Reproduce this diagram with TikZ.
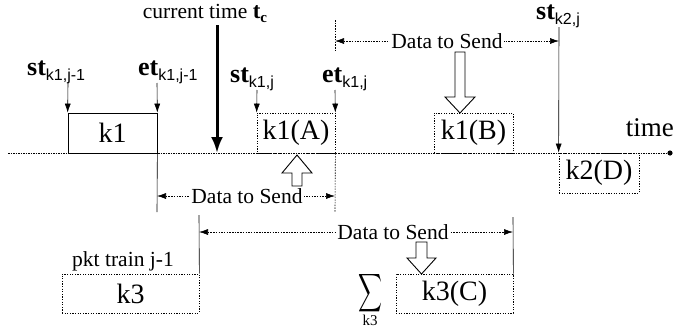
\documentclass[tikz,border=0pt]{standalone}
\usepackage{fontspec}
\setmainfont{Liberation Serif}
\newfontfamily\subsf{Liberation Sans}
\usetikzlibrary{arrows.meta}

% time-stamp label: bold symbol with a sans subscript
\newcommand\tlab[2]{\textbf{#1}\raisebox{-5pt}{\subsf\fontsize{16}{16}\selectfont #2}}

\begin{document}
\begin{tikzpicture}[x=1pt,y=-1pt,
  txt/.style={font=\fontsize{21.5}{24}\selectfont, inner sep=0pt},
  stamp/.style={font=\fontsize{26}{28}\selectfont, inner sep=0pt, anchor=base west},
  pkt/.style={font=\fontsize{28}{30}\selectfont, minimum height=40pt, inner sep=0pt,
              draw, line width=0.7pt, dash pattern=on 1.2pt off 1.4pt},
  pktsolid/.style={pkt, solid},
  tick/.style={line width=0.6pt, -{Latex[length=9pt,width=6pt]}},
  span/.style={line width=0.6pt, dash pattern=on 1.5pt off 1.2pt,
               {Latex[length=9pt,width=6pt]}-{Latex[length=9pt,width=6pt]}},
  bound/.style={line width=0.6pt},
  dbound/.style={line width=0.6pt, dash pattern=on 1.5pt off 1.2pt},
  hollow/.style={draw, fill=white, line width=0.9pt, line join=miter},
  gap/.style={txt, fill=white, inner xsep=1pt, inner ysep=2pt}
]
\useasboundingbox (0,0) rectangle (673,335);

% time axis
\coordinate (ax0) at (8,153);
\coordinate (ax1) at (670,153);
\draw[line width=0.7pt, dash pattern=on 1.5pt off 1pt] (ax0) -- (ax1);
\fill (ax1) circle (2.6pt);
\node[font=\fontsize{27}{28}\selectfont, inner sep=0pt, anchor=base east] (tl) at (674,136) {time};

% packets on the time line
\node[pktsolid, minimum width=89pt] (k1) at (112.5,133) {k1};
\node[pkt, minimum width=78pt] (kA) at (296,133) {k1(A)};
\node[pkt, minimum width=79pt] (kB) at (473.5,133) {k1(B)};
\node[pkt, minimum width=80pt] (kD) at (599,173) {k2(D)};
\node[pkt, minimum width=137pt, minimum height=39pt] (k3) at (130.5,293.5) {k3};
\node[pkt, minimum width=117pt, minimum height=39pt] (kC) at (454.5,293.5) {k3(C)};

% current time
\node[txt, anchor=base] (tc) at (205,18) {current time {\fontsize{23}{23}\selectfont\bfseries t}\raisebox{-4pt}{\fontsize{15}{15}\selectfont\bfseries c}};
\coordinate (tcA) at (217,25);
\coordinate (tcB) at (217,153);
\draw[line width=3pt, -{Latex[length=16pt,width=12pt]}] (tcA) -- (tcB);

% start / end stamps
\node[stamp] (s1) at (27,75) {\tlab{st}{k1,j-1}};
\node[stamp] (e1) at (138,75) {\tlab{et}{k1,j-1}};
\node[stamp] (s2) at (230,82) {\tlab{st}{k1,j}};
\node[stamp] (e2) at (322,82) {\tlab{et}{k1,j}};
\node[stamp] (s3) at (536,19) {\tlab{st}{k2,j}};

\coordinate (s1t) at (68,83);
\coordinate (e1t) at (157,83);
\coordinate (s2t) at (257,90);
\coordinate (e2t) at (335,90);
\coordinate (s3t) at (559,27);
\draw[tick] (s1t) -- (k1.north west);
\draw[tick] (e1t) -- (k1.north east);
\draw[tick] (s2t) -- (kA.north west);
\draw[tick] (e2t) -- (kA.north east);
\draw[tick] (s3t) -- (kD.north west);

% interval boundaries
\coordinate (e1b) at (157,212);
\coordinate (e2u) at (335,20);
\coordinate (e2m) at (335,50);
\coordinate (e2b) at (335,212);
\coordinate (b3l) at (199,215);
\coordinate (b3r) at (513,217);
\draw[bound] (k1.south east) -- (e1b);
\draw[dbound] (e2u) -- (e2m);
\draw[dbound] (kA.south east) -- (e2b);
\draw[bound] (b3l) -- (k3.north east);
\draw[bound] (b3r) -- (kC.north east);

% data-to-send spans
\coordinate (d1l) at (335,41);
\coordinate (d1r) at (559,41);
\draw[span] (d1l) -- (d1r);
\node[gap] (d1) at (447,41) {Data to Send};

\coordinate (d2l) at (157,196);
\coordinate (d2r) at (335,196);
\draw[span] (d2l) -- (d2r);
\node[gap] (d2) at (247,196) {Data to Send};

\coordinate (d3l) at (199,232);
\coordinate (d3r) at (513,232);
\draw[span] (d3l) -- (d3r);
\node[gap] (d3) at (393,232) {Data to Send};

% hollow block arrows
\draw[hollow] (455,52) -- (465,52) -- (465,97) -- (475,97) -- (460,113)
  -- (445,97) -- (455,97) -- cycle;
\draw[hollow] (292,186) -- (302,186) -- (302,173) -- (312,173) -- (297,155)
  -- (282,173) -- (292,173) -- cycle;
\draw[hollow] (416,242) -- (427,242) -- (427,258) -- (436,258) -- (421.5,274)
  -- (407,258) -- (416,258) -- cycle;

% previous packet train and sum
\node[txt, anchor=base] (pt) at (123,266) {pkt train j-1};
\node[inner sep=0pt] (sum) at (370,293) {\resizebox{24pt}{28pt}{$\displaystyle\sum$}};
\node[inner sep=0pt, font=\fontsize{15}{15}\selectfont] (sumk) at (370,320) {k3};
\end{tikzpicture}
\end{document}
